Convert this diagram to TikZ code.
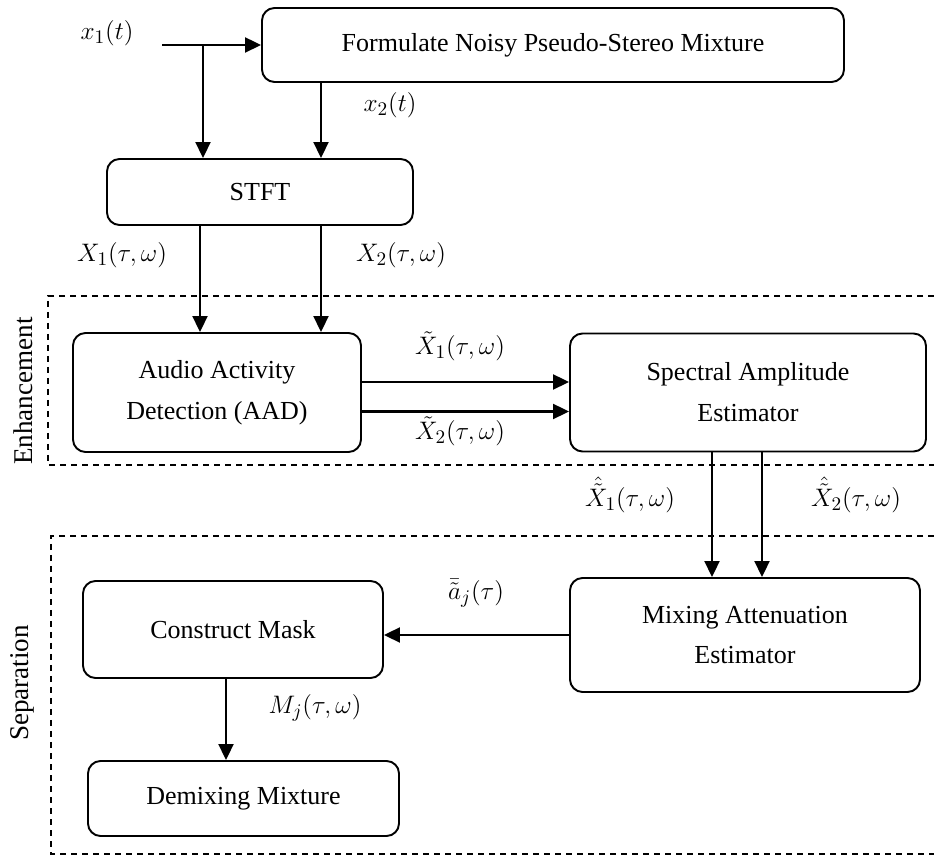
\documentclass[tikz,border=0pt]{standalone}
\usepackage{amsmath}
\usepackage{amssymb}
\usepackage{fontspec}
\setmainfont{Liberation Serif}
\usetikzlibrary{arrows.meta}

\begin{document}
\begin{tikzpicture}[
  box/.style={draw, line width=1.1pt, rounded corners=0.25cm, align=center,
    inner sep=0pt, font=\fontsize{14.8}{23.3}\selectfont},
  flow/.style={line width=1.2pt, -{Triangle[length=0.32cm,width=0.3cm]}},
  region/.style={line width=0.9pt, dash pattern=on 0.12cm off 0.1cm},
  lbl/.style={font=\fontsize{15.4}{18}\selectfont}]
  \useasboundingbox (0,0) rectangle (18.68,17.12);
  % blocks
  \node[box, minimum width=11.64cm, minimum height=1.48cm] (form) at (11.06,16.22) {Formulate Noisy Pseudo-Stereo Mixture};
  \node[box, minimum width=6.12cm, minimum height=1.32cm] (stft) at (5.20,13.28) {STFT};
  \node[box, minimum width=5.76cm, minimum height=2.38cm] (aad) at (4.34,9.27) {Audio Activity\\Detection (AAD)};
  \node[box, minimum width=7.12cm, minimum height=2.36cm] (sae) at (14.96,9.27) {Spectral Amplitude\\Estimator};
  \node[box, minimum width=7.00cm, minimum height=2.28cm] (mix) at (14.90,4.42) {Mixing Attenuation\\Estimator};
  \node[box, minimum width=6.00cm, minimum height=1.94cm] (mask) at (4.66,4.53) {Construct Mask};
  \node[box, minimum width=6.22cm, minimum height=1.50cm] (demix) at (4.87,1.15) {Demixing Mixture};
  % dashed regions
  \draw[region] (18.68,11.2) -- (0.96,11.2) -- (0.96,7.82) -- (18.68,7.82);
  \draw[region] (18.68,6.4) -- (1.02,6.4) -- (1.02,0.04) -- (18.68,0.04);
  \node[lbl, rotate=90] (enh) at (0.46,9.3) {Enhancement};
  \node[lbl, rotate=90] (sep) at (0.44,3.46) {Separation};
  % signal flow
  \coordinate (in1) at (3.24,16.22);
  \coordinate (br) at (4.06,16.22);
  \draw[flow] (in1) -- (form.west);
  \draw[flow] (br) -- (br |- stft.north);
  \draw[flow] (6.42,0 |- form.south) -- (6.42,0 |- stft.north);
  \draw[flow] (4.0,0 |- stft.south) -- (4.0,0 |- aad.north);
  \draw[flow] (6.42,0 |- stft.south) -- (6.42,0 |- aad.north);
  \draw[flow] ([yshift=0.21cm]aad.east) -- ([yshift=0.21cm]sae.west);
  \draw[flow] ([yshift=-0.38cm]aad.east) -- ([yshift=-0.38cm]sae.west);
  \draw[flow] (14.24,0 |- sae.south) -- (14.24,0 |- mix.north);
  \draw[flow] (15.24,0 |- sae.south) -- (15.24,0 |- mix.north);
  \draw[flow] (mix.west) -- (mix.west -| mask.east);
  \draw[flow] (4.52,0 |- mask.south) -- (4.52,0 |- demix.north);
  % labels
  \node[lbl] (x1lbl) at (2.14,16.46) {$x_1(t)$};
  \node[lbl] (x2lbl) at (7.80,15.02) {$x_2(t)$};
  \node[lbl] (X1lbl) at (2.44,12.02) {$X_1(\tau,\omega)$};
  \node[lbl] (X2lbl) at (8.02,12.02) {$X_2(\tau,\omega)$};
  \node[lbl] (X1til) at (9.20,10.20) {$\tilde{X}_1(\tau,\omega)$};
  \node[lbl] (X2til) at (9.20,8.50) {$\tilde{X}_2(\tau,\omega)$};
  \node[lbl] (X1hat) at (12.60,7.22) {$\hat{\tilde{X}}_1(\tau,\omega)$};
  \node[lbl] (X2hat) at (17.12,7.22) {$\hat{\tilde{X}}_2(\tau,\omega)$};
  \node[lbl] (albl) at (9.52,5.26) {$\bar{\tilde{a}}_j(\tau)$};
  \node[lbl] (Mlbl) at (6.30,2.96) {$M_j(\tau,\omega)$};
\end{tikzpicture}
\end{document}
